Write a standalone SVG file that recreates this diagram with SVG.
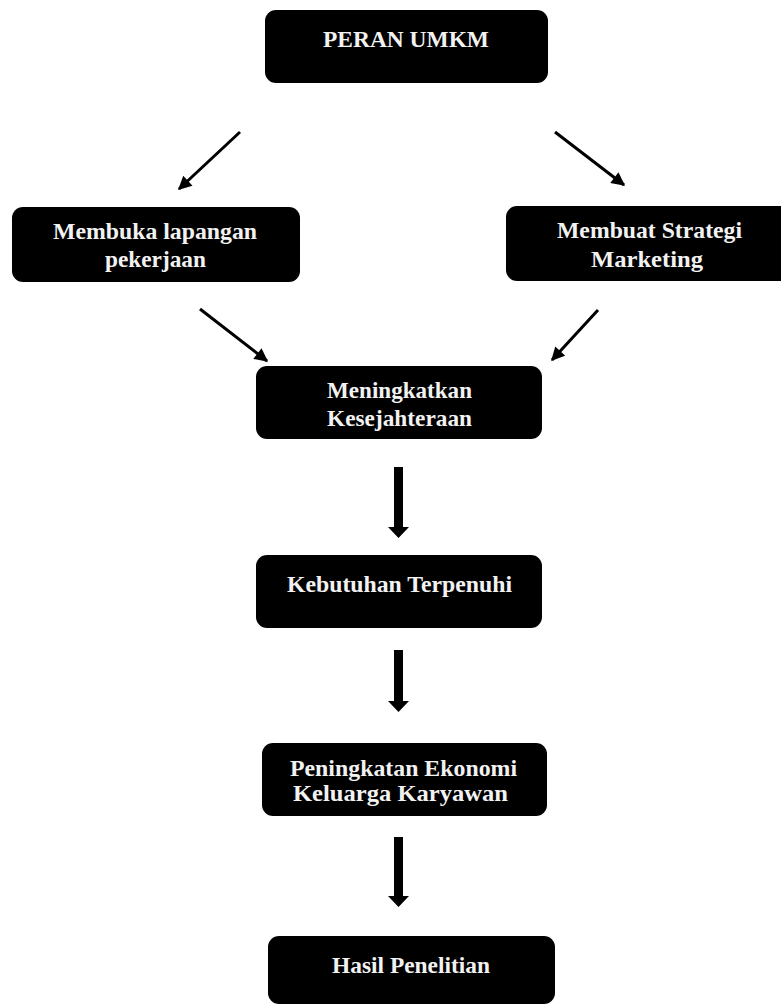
<svg xmlns="http://www.w3.org/2000/svg" width="781" height="1005" viewBox="0 0 781 1005">
<style>
.box{fill:#000;}
.t{font-family:"Liberation Serif","Times New Roman",serif;font-weight:bold;font-size:23px;fill:#f2f2f2;text-anchor:middle;}
.thin{stroke:#000;stroke-width:3;fill:none;}
.thick{fill:#000;}
</style>
<defs>
<marker id="ah" viewBox="0 0 10 10" refX="9" refY="5" markerWidth="5" markerHeight="4.5" orient="auto" markerUnits="strokeWidth">
<path d="M0,0 L10,5 L0,10 Z" fill="#000"/>
</marker>
</defs>
<rect width="781" height="1005" fill="#fff"/>
<g id="connectors">
<line class="thin" x1="240" y1="132" x2="179" y2="189" marker-end="url(#ah)"/>
<line class="thin" x1="555" y1="132" x2="624" y2="185" marker-end="url(#ah)"/>
<line class="thin" x1="200" y1="309" x2="267" y2="361" marker-end="url(#ah)"/>
<line class="thin" x1="598" y1="310" x2="552" y2="360" marker-end="url(#ah)"/>
<path class="thick" d="M394,467 L403,467 L403,527 L409,527 L398.5,538 L388,527 L394,527 Z"/>
<path class="thick" d="M394,650 L403,650 L403,701 L409,701 L398.5,712 L388,701 L394,701 Z"/>
<path class="thick" d="M394,837 L403,837 L403,896 L409,896 L398.5,907 L388,896 L394,896 Z"/>
</g>
<g id="n1">
<rect class="box" x="265" y="10" width="283" height="73" rx="11"/>
<text class="t" x="406" y="47" textLength="166" lengthAdjust="spacingAndGlyphs">PERAN UMKM</text>
</g>
<g id="n2">
<rect class="box" x="12" y="207" width="288" height="75" rx="11"/>
<text class="t" x="155" y="239" textLength="204" lengthAdjust="spacingAndGlyphs">Membuka lapangan</text>
<text class="t" x="155.5" y="267" textLength="101" lengthAdjust="spacingAndGlyphs">pekerjaan</text>
</g>
<g id="n3">
<rect class="box" x="506" y="206" width="290" height="75" rx="11"/>
<text class="t" x="649.5" y="238" textLength="185" lengthAdjust="spacingAndGlyphs">Membuat Strategi</text>
<text class="t" x="647" y="267" textLength="112" lengthAdjust="spacingAndGlyphs">Marketing</text>
</g>
<g id="n4">
<rect class="box" x="256" y="366" width="286" height="73" rx="11"/>
<text class="t" x="399.5" y="398" textLength="145" lengthAdjust="spacingAndGlyphs">Meningkatkan</text>
<text class="t" x="399.5" y="426" textLength="145" lengthAdjust="spacingAndGlyphs">Kesejahteraan</text>
</g>
<g id="n5">
<rect class="box" x="256" y="555" width="286" height="73" rx="11"/>
<text class="t" x="399.5" y="592" textLength="225" lengthAdjust="spacingAndGlyphs">Kebutuhan Terpenuhi</text>
</g>
<g id="n6">
<rect class="box" x="262" y="743" width="285" height="73" rx="11"/>
<text class="t" x="403.5" y="776" textLength="227" lengthAdjust="spacingAndGlyphs">Peningkatan Ekonomi</text>
<text class="t" x="400.5" y="801" textLength="215" lengthAdjust="spacingAndGlyphs">Keluarga Karyawan</text>
</g>
<g id="n7">
<rect class="box" x="268" y="936" width="287" height="68" rx="11"/>
<text class="t" x="411" y="973" textLength="158" lengthAdjust="spacingAndGlyphs">Hasil Penelitian</text>
</g>
</svg>
